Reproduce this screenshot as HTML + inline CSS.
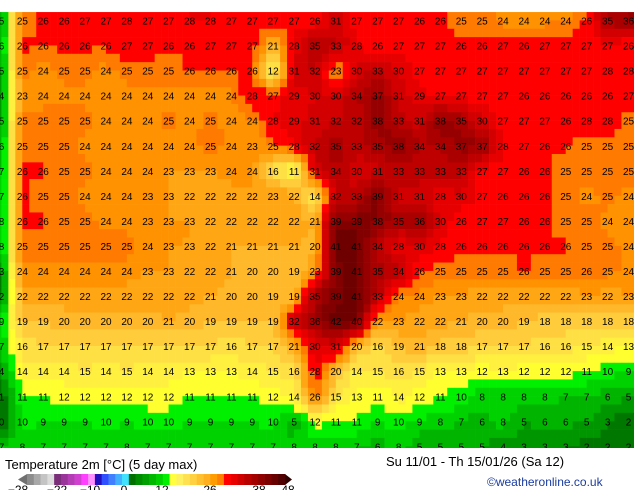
<!DOCTYPE html>
<html><head><meta charset="utf-8">
<style>
html,body{margin:0;padding:0;background:#fff;width:634px;height:490px;overflow:hidden;font-family:"Liberation Sans",sans-serif;}
svg{display:block}
</style></head>
<body>
<svg id="chart" width="634" height="490" viewBox="0 0 634 490" xmlns="http://www.w3.org/2000/svg">
  <g id="cells"></g>
  <g id="labels" font-family="Liberation Sans, sans-serif" font-size="10" fill="#000"></g>
  <rect x="0" y="448" width="634" height="42" fill="#fff"/>
  <text x="5" y="469" font-size="13" fill="#000">Temperature 2m [°C] (5 day max)</text>
  <text x="386" y="466" font-size="13" fill="#000">Su 11/01 - Th 15/01/26 (Sa 12)</text>
  <text x="487" y="486" font-size="12" fill="#1a3ca0">©weatheronline.co.uk</text>
  <g id="legend"></g>
</svg>
<script>
// Grid values (°C), rows top->bottom, 31 columns left->right
const row0=[5,25,26,26,27,27,28,27,27,28,28,27,27,27,27,26,31,27,27,27,26,26,25,25,24,24,24,24,26,35,36];
const row1=[6,26,26,26,26,26,27,27,26,26,27,27,27,21,28,35,33,28,26,27,27,27,26,26,27,26,27,27,27,27,26];
const row2=[5,25,24,25,25,24,25,25,25,26,26,26,26,12,31,32,23,30,33,30,27,27,27,27,27,27,27,27,27,28,28];
const row3=[4,23,24,24,24,24,24,24,24,24,24,24,28,27,29,30,30,34,37,31,29,27,27,27,27,26,26,26,26,26,27];
const row4=[5,25,25,25,25,24,24,24,25,24,25,24,24,28,29,31,32,32,38,33,31,38,35,30,27,27,27,26,28,28,25];
const row5=[6,25,25,25,24,24,24,24,24,24,25,24,23,25,28,32,35,33,35,38,34,34,37,37,28,27,26,26,25,25,25];
const row6=[7,26,26,25,25,24,24,24,23,23,23,24,24,16,11,31,34,30,31,33,33,33,33,27,27,26,26,25,25,25,25];
const row7=[7,26,25,25,24,24,24,23,23,22,22,22,22,23,22,14,32,33,39,31,31,28,30,27,26,26,26,25,24,25,24];
const row8=[8,26,26,25,25,24,24,23,23,23,22,22,22,22,22,21,39,39,38,35,36,30,26,27,27,26,26,25,25,24,24];
const row9=[8,25,25,25,25,25,25,24,23,23,22,21,21,21,21,20,41,41,34,28,30,28,26,26,26,26,26,26,25,25,24];
const row10=[3,24,24,24,24,24,24,23,23,22,22,21,20,20,19,23,39,41,35,34,26,25,25,25,25,26,25,25,26,25,24];
const row11=[2,22,22,22,22,22,22,22,22,22,21,20,20,19,19,35,39,41,33,24,24,23,23,22,22,22,22,22,23,22,23];
const row12=[9,19,19,20,20,20,20,20,21,20,19,19,19,19,32,36,42,40,22,23,22,22,21,20,20,19,18,18,18,18,18];
const row13=[7,16,17,17,17,17,17,17,17,17,17,16,17,17,21,30,31,20,16,19,21,18,18,17,17,17,16,16,15,14,13];
const row14=[4,14,14,14,15,14,15,14,14,13,13,13,14,15,16,28,20,14,15,16,15,13,13,12,13,12,12,12,11,10,9];
const row15=[1,11,11,12,12,12,12,12,12,11,11,11,11,12,14,26,15,13,11,14,12,11,10,8,8,8,8,7,7,6,5];
const row16=[0,10,9,9,9,10,9,10,10,9,9,9,9,10,5,12,11,11,9,10,9,8,7,6,8,5,6,6,5,3,2];
const row17=[7,8,7,7,7,7,8,7,7,7,7,7,7,7,8,8,8,7,6,8,5,5,5,5,4,3,3,3,2,2,2];
const grid=[row0,row1,row2,row3,row4,row5,row6,row7,row8,row9,row10,row11,row12,row13,row14,row15,row16,row17];

// Legend tick labels
const legendTicks=[-28,-22,-10,0,12,26,38,48];

// axis functions
const NS="http://www.w3.org/2000/svg";
const colX=c=>1.5+c*20.9;
const rowY=r=>20.5+r*25.05;
const MAPH=448;

function colorFor(v){
  if(v<0) return "#40c0ff";
  if(v<3) return "#007800";
  if(v<5) return "#009600";
  if(v<7) return "#00b400";
  if(v<9) return "#00d200";
  if(v<11) return "#00f000";
  if(v<13) return "#ffff30";
  if(v<15) return "#fff040";
  if(v<17) return "#ffe044";
  if(v<19) return "#ffcc3c";
  if(v<21) return "#ffb82a";
  if(v<23) return "#ffa614";
  if(v<24.5) return "#ff9200";
  if(v<25.8) return "#ff7a00";
  if(v<28) return "#ff0000";
  if(v<30) return "#e60000";
  if(v<32) return "#d20000";
  if(v<34) return "#be0000";
  if(v<36) return "#aa0000";
  if(v<38) return "#960000";
  if(v<40) return "#820000";
  return "#6e0000";
}
function val(r,c){
  r=Math.max(0,Math.min(grid.length-1,r));c=Math.max(0,Math.min(grid[0].length-1,c));
  const r0=Math.floor(r),c0=Math.floor(c),r1=Math.min(r0+1,grid.length-1),c1=Math.min(c0+1,grid[0].length-1);
  const fr=r-r0,fc=c-c0;
  return grid[r0][c0]*(1-fr)*(1-fc)+grid[r0][c1]*(1-fr)*fc+grid[r1][c0]*fr*(1-fc)+grid[r1][c1]*fr*fc;
}
const cells=document.getElementById('cells');
const SUB=3;
const nR=grid.length,nC=grid[0].length;
for(let i=-1;i<nR*SUB;i++){
  for(let j=-1;j<nC*SUB;j++){
    const r=(i+0.5)/SUB, c=(j+0.5)/SUB;
    const v=val(r,c);
    const x=colX(j/SUB)-0.1, y=rowY(i/SUB)-0.1;
    const w=20.9/SUB+0.3, h=25.05/SUB+0.3;
    const rect=document.createElementNS(NS,'rect');
    rect.setAttribute('x',x.toFixed(2));rect.setAttribute('y',Math.max(0,y).toFixed(2));
    rect.setAttribute('width',w.toFixed(2));rect.setAttribute('height',(Math.min(MAPH,y+h)-Math.max(0,y)).toFixed(2));
    rect.setAttribute('fill',colorFor(v));
    
    
    if(y<MAPH && y+h>0) cells.appendChild(rect);
  }
}
const labels=document.getElementById('labels');
for(let r=0;r<nR;r++){
  for(let c=0;c<nC;c++){
    const t=document.createElementNS(NS,'text');
    t.setAttribute('x',colX(c).toFixed(1));
    t.setAttribute('y',(rowY(r)+4).toFixed(1));
    t.setAttribute('text-anchor','middle');
    t.textContent=grid[r][c];
    
    
    labels.appendChild(t);
  }
}
// Legend
const legend=document.getElementById('legend');
const legendColors=["#8c8c8c","#a8a8a8","#c4c4c4","#dcdcdc","#7a2e7a","#9a349a","#b43cb4","#d040d0","#ff40ff","#ff90ff","#2010c0","#3050ff","#4080ff","#40b0ff","#40e0ff","#007000","#008c00","#00a000","#00b800","#00d000","#00f000","#ffff40","#fff060","#ffe050","#ffd040","#ffc030","#ffb020","#ff9c00","#ff8000","#ff0000","#e80000","#d00000","#b80000","#a40000","#900000","#7c0000","#680000","#500000"];
const bx0=27,bx1=285,by=474,bh=11;
const sw=(bx1-bx0)/legendColors.length;
const la=document.createElementNS(NS,'polygon');
la.setAttribute('points',`${bx0},${by} ${bx0},${by+bh} ${bx0-9},${by+bh/2}`);la.setAttribute('fill','#707070');


legend.appendChild(la);
legendColors.forEach((col,i)=>{
  const rr=document.createElementNS(NS,'rect');
  rr.setAttribute('x',(bx0+i*sw).toFixed(2));rr.setAttribute('y',by);
  rr.setAttribute('width',(sw+0.3).toFixed(2));rr.setAttribute('height',bh);rr.setAttribute('fill',col);
  
  
  legend.appendChild(rr);
});
const ra=document.createElementNS(NS,'polygon');
ra.setAttribute('points',`${bx1},${by} ${bx1},${by+bh} ${bx1+7},${by+bh/2}`);ra.setAttribute('fill','#300000');


legend.appendChild(ra);
const tickX=v=>{
  const vs=[-28,-22,-10,0,12,26,38,48], xs=[18,57,90,124,162,210,259,288];
  for(let i=0;i<vs.length-1;i++) if(v<=vs[i+1]) return xs[i]+(v-vs[i])/(vs[i+1]-vs[i])*(xs[i+1]-xs[i]);
  return xs[xs.length-1];
};
legendTicks.forEach(v=>{
  const t=document.createElementNS(NS,'text');
  t.setAttribute('x',tickX(v).toFixed(1));t.setAttribute('y','494');
  t.setAttribute('text-anchor','middle');t.setAttribute('font-size','12');
  t.textContent=v<0?'\u2212'+(-v):String(v);
  
  
  legend.appendChild(t);
});
</script>
</body></html>
